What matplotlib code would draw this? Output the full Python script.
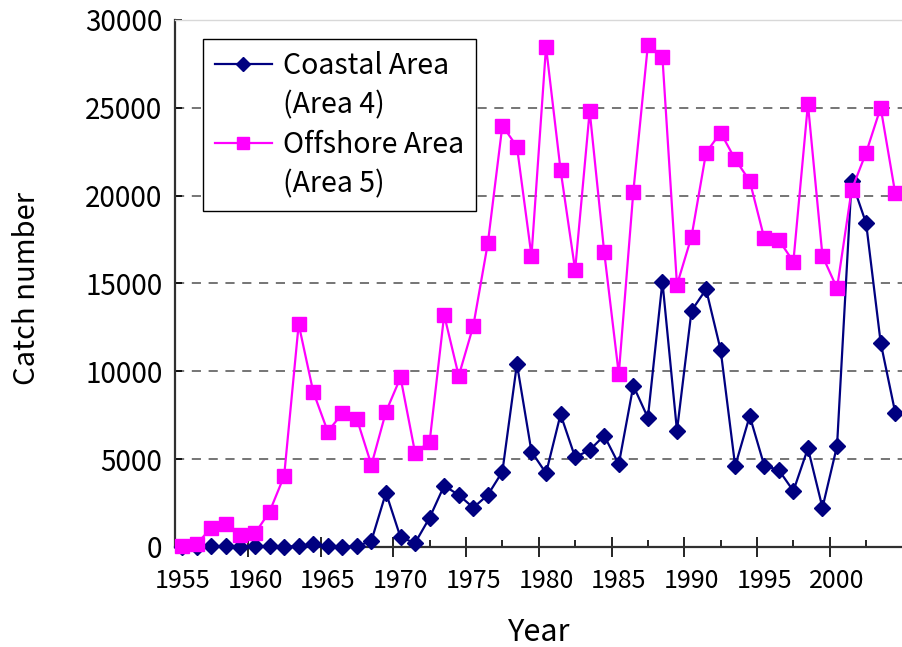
import matplotlib
matplotlib.use("Agg")
import matplotlib.pyplot as plt
from matplotlib.lines import Line2D

plt.rcParams['font.family'] = ['Noto Sans CJK JP', 'DejaVu Sans']

years = list(range(1955, 2005))

coastal = [
    0, 0, 50, 30, 20, 50, 30, 20, 50, 150,
    50, 20, 30, 360, 3090, 550, 230, 1670, 3490, 2960,
    2240, 2960, 4290, 10420, 5430, 4200, 7550, 5110, 5520, 6340,
    4710, 9180, 7360, 15100, 6620, 13450, 14670, 11220, 4610, 7460,
    4630, 4380, 3190, 5620, 2240, 5750, 20840, 18430, 11630, 7650,
]

offshore = [
    80, 180, 1100, 1290, 680, 780, 2010, 4040, 12680, 8840,
    6570, 7610, 7290, 4670, 7700, 9650, 5370, 5990, 13210, 9740,
    12580, 17290, 23990, 22790, 16570, 28480, 21460, 15770, 24820, 16780,
    9850, 20230, 28580, 27880, 14920, 17670, 22450, 23590, 22070, 20840,
    17570, 17480, 16240, 25220, 16570, 14730, 20320, 22450, 25010, 20140,
]

label_years = list(range(1955, 2001, 5))

fig = plt.figure(figsize=(9.02, 6.47), dpi=100)
ax = fig.add_axes([175 / 902, 1 - 547 / 647, 727.5 / 902, 527 / 647])

l1, = ax.plot(years, coastal, color='#000080', lw=1.6, marker='D', ms=8.2,
              zorder=3, clip_on=False)
l2, = ax.plot(years, offshore, color='#FF00FF', lw=1.6, marker='s', ms=10,
              zorder=4, clip_on=False)

ax.set_xlim(1954.5, 2004.5)
ax.set_ylim(0, 30000)

# dashed grid
for v in range(5000, 30000, 5000):
    ax.axhline(v, color='#505050', lw=1.1, ls=(0, (6, 5)), zorder=1)

# y axis
ax.set_yticks(range(0, 30001, 5000))
ax.tick_params(axis='y', direction='in', length=5, width=1.2, labelsize=20, pad=9)

# x axis: labels at category centres, long ticks at 5-year boundaries,
# short ticks in the middle
ax.set_xticks(label_years)
ax.set_xticklabels([str(y) for y in label_years])
ax.tick_params(axis='x', which='major', length=0, labelsize=18, pad=15)
ax.set_xticks([1959.5 + 5 * k for k in range(9)], minor=True)
ax.tick_params(axis='x', which='minor', direction='inout', length=14, width=1.2)
sec = ax.secondary_xaxis('bottom')
sec.set_xticks([1957 + 5 * k for k in range(10)])
sec.set_xticklabels([])
sec.tick_params(direction='in', length=5, width=1.2)
sec.spines['bottom'].set_visible(False)

for s in ['left', 'bottom']:
    ax.spines[s].set_linewidth(1.6)
    ax.spines[s].set_color('#303030')
ax.spines['right'].set_visible(False)
ax.spines['top'].set_color('#d8d8d8')
ax.spines['top'].set_linewidth(1.0)

ax.set_ylabel('Catch number', fontsize=21)
ax.yaxis.set_label_coords(-0.183, 0.49)
ax.set_xlabel('Year', fontsize=22)
ax.xaxis.set_label_coords(0.5, -0.133)

blank = Line2D([], [], color='none')
leg = ax.legend([l1, blank, l2, blank],
                ['Coastal Area', '(Area 4)', 'Offshore Area', '(Area 5)'],
                loc='upper left', bbox_to_anchor=(0.0385, 0.964),
                borderaxespad=0, fontsize=20.5, frameon=True, fancybox=False,
                edgecolor='black', framealpha=1, handlelength=2.0,
                handletextpad=0.4, labelspacing=0.33, borderpad=0.42,
                markerscale=0.85)
leg.get_frame().set_linewidth(1.0)
leg.set_zorder(5)

fig.savefig('out.png', dpi=100)
